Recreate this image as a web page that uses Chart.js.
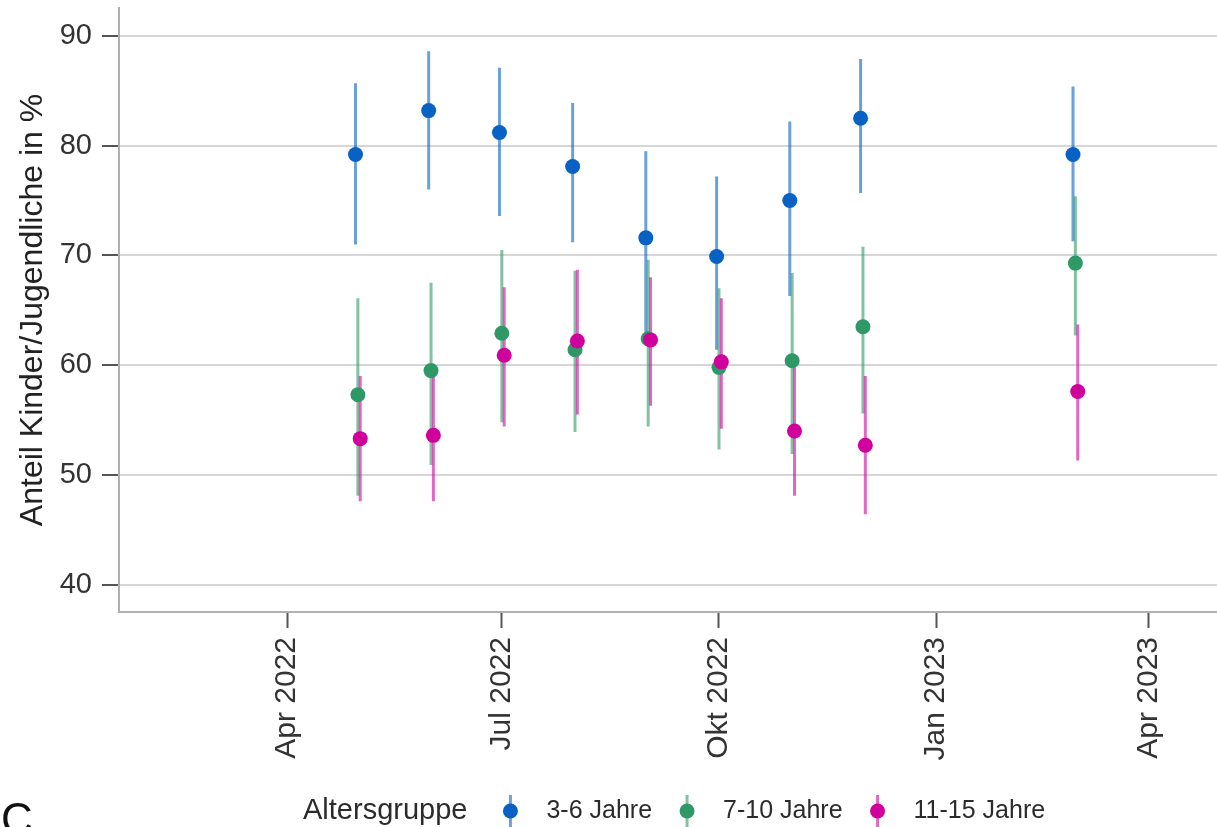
<!DOCTYPE html>
<html>
<head>
<meta charset="utf-8">
<script src="https://cdn.jsdelivr.net/npm/chart.js@4.4.1/dist/chart.umd.min.js"></script>
<style>
  html, body { margin: 0; padding: 0; background: #fff; overflow: hidden; }
  #wrap { position: relative; width: 1217px; height: 827px; overflow: hidden; }
  canvas { display: block; }
  #panel { position: absolute; left: 1px; top: 797px; font: 44px "Liberation Sans", Arial, sans-serif; color: #111; line-height: 1; }
</style>
</head>
<body>
<div id="wrap">
  <canvas id="c" width="1217" height="827"></canvas>
  <div id="panel">C</div>
</div>
<script>
// Survey waves (first day of month)
const surveyDates = ['2022-05-01', '2022-06-01', '2022-07-01', '2022-08-01', '2022-09-01',
                     '2022-10-01', '2022-11-01', '2022-12-01', '2023-03-01'];

const groupNames = ['3-6 Jahre', '7-10 Jahre', '11-15 Jahre'];

// Share in %, with lower / upper bound of the interval
const est3to6  = [79.2, 83.2, 81.2, 78.1, 71.6, 69.9, 75.0, 82.5, 79.2];
const lo3to6   = [71.0, 76.0, 73.6, 71.2, 62.9, 61.4, 66.3, 75.7, 71.3];
const hi3to6   = [85.7, 88.6, 87.1, 83.9, 79.5, 77.2, 82.2, 87.9, 85.4];

const est7to10 = [57.3, 59.5, 62.9, 61.4, 62.4, 59.8, 60.4, 63.5, 69.3];
const lo7to10  = [48.1, 50.9, 54.8, 53.9, 54.4, 52.3, 51.9, 55.6, 62.7];
const hi7to10  = [66.1, 67.5, 70.5, 68.6, 69.6, 67.0, 68.4, 70.8, 75.4];

const est11to15 = [53.3, 53.6, 60.9, 62.2, 62.3, 60.3, 54.0, 52.7, 57.6];
const lo11to15  = [47.6, 47.6, 54.4, 55.5, 56.3, 54.2, 48.1, 46.4, 51.3];
const hi11to15  = [59.0, 59.0, 67.1, 68.7, 68.0, 66.1, 59.8, 59.0, 63.7];

const xTickDates  = ['2022-04-01', '2022-07-01', '2022-10-01', '2023-01-01', '2023-04-01'];
const xTickLabels = ['Apr 2022', 'Jul 2022', 'Okt 2022', 'Jan 2023', 'Apr 2023'];
const yTickValues = [40, 50, 60, 70, 80, 90];

// ---- helpers and styling ----
const FONT = '"Liberation Sans", Arial, Helvetica, sans-serif';
const dayNum = s => { const [y, m, d] = s.split('-').map(Number); return Date.UTC(y, m - 1, d) / 86400000; };
const DODGE = 1; // days between neighbouring groups at one wave
const noPadding = () => ({ left: 0, top: 0, right: 0, bottom: 0 });

const dotColors  = ['#0762c3', '#2e9966', '#d0009c'];
const lineColors = ['rgba(7,98,195,0.6)', 'rgba(46,153,102,0.6)', 'rgba(208,0,156,0.6)'];

const groupData = [
  { est: est3to6,   lo: lo3to6,   hi: hi3to6 },
  { est: est7to10,  lo: lo7to10,  hi: hi7to10 },
  { est: est11to15, lo: lo11to15, hi: hi11to15 }
];

const datasets = [];
groupData.forEach((g, gi) => {
  const xs = surveyDates.map(d => dayNum(d) + (gi - 1) * DODGE);
  datasets.push({
    label: groupNames[gi] + ' range',
    data: xs.flatMap((x, i) => [{ x, y: g.lo[i] }, { x, y: g.hi[i] }, { x, y: null }]),
    borderColor: lineColors[gi],
    borderWidth: 3,
    pointRadius: 0,
    pointHoverRadius: 0,
    spanGaps: false,
    showLine: true,
    order: 20 - gi
  });
});
groupData.forEach((g, gi) => {
  const xs = surveyDates.map(d => dayNum(d) + (gi - 1) * DODGE);
  datasets.push({
    label: groupNames[gi],
    data: xs.map((x, i) => ({ x, y: g.est[i] })),
    showLine: false,
    pointRadius: 7.5,
    pointHoverRadius: 7.5,
    pointBorderWidth: 0,
    pointBackgroundColor: dotColors[gi],
    borderColor: dotColors[gi],
    order: 10 - gi
  });
});

const apr = dayNum('2022-04-01');

// Legend with an interval glyph for each age group
const legendPlugin = {
  id: 'ageLegend',
  afterDraw(chart) {
    const ctx = chart.ctx;
    const y = 811;
    ctx.save();
    ctx.textBaseline = 'middle';
    ctx.textAlign = 'left';
    ctx.fillStyle = '#2b2b2b';
    ctx.font = '29px ' + FONT;
    let x = 303;
    ctx.fillText('Altersgruppe', x, y);
    x += ctx.measureText('Altersgruppe').width + 43;
    ctx.font = '25px ' + FONT;
    groupNames.forEach((name, gi) => {
      ctx.strokeStyle = lineColors[gi];
      ctx.lineWidth = 3;
      ctx.beginPath();
      ctx.moveTo(x, y - 16);
      ctx.lineTo(x, y + 16);
      ctx.stroke();
      ctx.fillStyle = dotColors[gi];
      ctx.beginPath();
      ctx.arc(x, y, 7.5, 0, Math.PI * 2);
      ctx.fill();
      ctx.fillStyle = '#2b2b2b';
      ctx.fillText(name, x + 36, y);
      x += 36 + ctx.measureText(name).width + 35;
    });
    ctx.restore();
  }
};

new Chart(document.getElementById('c'), {
  type: 'line',
  data: { datasets },
  plugins: [legendPlugin],
  options: {
    responsive: false,
    animation: false,
    events: [],
    layout: { autoPadding: false, padding: { top: 8, right: 0, bottom: 0, left: 0 } },
    plugins: { legend: { display: false }, tooltip: { enabled: false } },
    scales: {
      x: {
        type: 'linear',
        min: apr - 71.2,
        max: apr + 394,
        afterFit(scale) {
          scale.height = 215;
          scale.paddingLeft = 0;
          scale.paddingRight = 0;
          scale.getPadding = noPadding;
        },
        afterBuildTicks(scale) { scale.ticks = xTickDates.map(d => ({ value: dayNum(d) })); },
        grid: { drawOnChartArea: false, drawTicks: true, tickLength: 16, tickColor: '#555', tickWidth: 2 },
        border: { display: true, color: '#b0b0b0', width: 2 },
        ticks: {
          autoSkip: false,
          minRotation: 90,
          maxRotation: 90,
          padding: 9,
          color: '#333',
          font: { family: FONT, size: 30 },
          callback: (v, i) => xTickLabels[i]
        }
      },
      y: {
        min: 37.5,
        max: 92.55,
        afterFit(scale) {
          scale.width = 119;
          scale.paddingTop = 0;
          scale.paddingBottom = 0;
          scale.getPadding = noPadding;
        },
        afterBuildTicks(scale) { scale.ticks = yTickValues.map(v => ({ value: v })); },
        grid: { color: '#d6d6d6', lineWidth: 2, drawTicks: true, tickLength: 17, tickColor: '#555', tickWidth: 2 },
        border: { display: true, color: '#b0b0b0', width: 2 },
        ticks: { padding: 10, color: '#333', font: { family: FONT, size: 29 } },
        title: {
          display: true,
          text: 'Anteil Kinder/Jugendliche in %',
          color: '#222',
          font: { family: FONT, size: 32 },
          padding: { top: 14, bottom: 0 }
        }
      }
    }
  }
});
</script>
</body>
</html>
